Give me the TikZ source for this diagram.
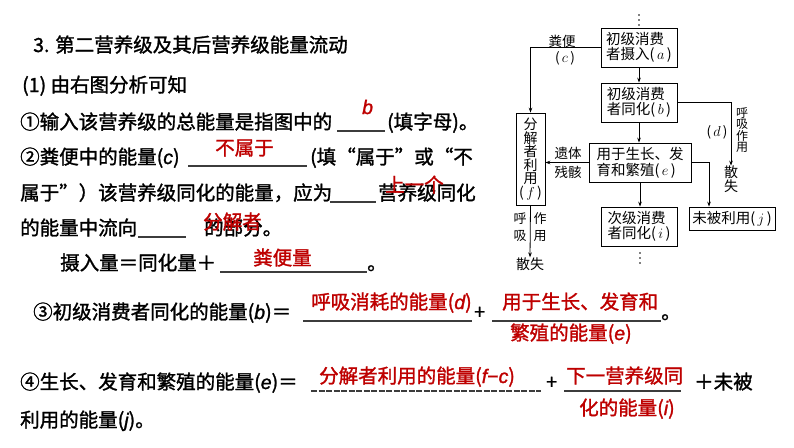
\documentclass[tikz,border=0pt]{standalone}
\usepackage{fontspec}
\setmainfont{Liberation Sans}
\newfontfamily\cjk{Noto Sans CJK SC}[FakeBold=1.4]
\newfontfamily\cjkd{Noto Sans CJK SC}
\newfontfamily\lat{Liberation Sans}[FakeBold=1.4]
\usetikzlibrary{arrows.meta}
\definecolor{ansred}{RGB}{190,0,0}
\definecolor{uline}{RGB}{60,60,60}
\newcommand\li[1]{{\lat\itshape #1}}
\begin{document}
\begin{tikzpicture}[x=1pt,y=-1pt,
  txt/.style={inner sep=0pt, anchor=base west, font=\cjk\fontsize{19.5}{22}\selectfont},
  ans/.style={txt, text=ansred},
  ul/.style={draw=uline, line width=1.3pt},
  box/.style={draw, line width=0.8pt, inner sep=0pt, align=left, font=\cjkd\fontsize{14.5}{15.6}\selectfont},
  lbl/.style={inner sep=0pt, font=\cjkd\fontsize{13.5}{14}\selectfont, align=center},
  arr/.style={draw, line width=0.8pt, -{Stealth[length=5pt,width=3.6pt]}},
  ln/.style={draw, line width=0.8pt},
  dot/.style={fill, circle, inner sep=0pt, minimum size=1.6pt}
]
\fill[white] (0,0) rectangle (794,447);
\useasboundingbox (0,0) rectangle (794,447);

% ---------- left text ----------
\node[txt] (t1) at (33,52) {3. 第二营养级及其后营养级能量流动};
\node[txt] (t2) at (22,92) {(1) 由右图分析可知};

\node[txt] (t3a) at (20,129) {①输入该营养级的总能量是指图中的};
\coordinate (u3a) at (337,131); \coordinate (u3b) at (385,131);
\draw[ul] (u3a) -- (u3b);
\node[txt] (t3b) at (387,129) {(填字母)。};
\node[ans] (a3) at (362,114) {\li{b}};

\node[txt] (t4a) at (20,164) {②粪便中的能量(\li{c})};
\coordinate (u4a) at (188,166); \coordinate (u4b) at (307,166);
\draw[ul] (u4a) -- (u4b);
\node[txt] (t4b) at (310,164) {(填“属于”或“不};
\node[ans] (a4) at (215,155) {不属于};

\node[txt] (t5a) at (20,200) {属于”）该营养级同化的能量，应为};
\coordinate (u5a) at (330,202); \coordinate (u5b) at (376,202);
\draw[ul] (u5a) -- (u5b);
\node[txt] (t5b) at (378,200) {营养级同化};
\node[ans] (a5) at (385,192) {上一个};

\node[txt] (t6a) at (20,235) {的能量中流向};
\coordinate (u6a) at (138,237); \coordinate (u6b) at (186,237);
\draw[ul] (u6a) -- (u6b);
\node[txt] (t6b) at (204,235) {的部分。};
\node[ans] (a6) at (203,229) {分解者};

\node[txt] (t7a) at (60,270) {摄入量＝同化量＋};
\coordinate (u7a) at (220,272); \coordinate (u7b) at (367,272);
\draw[ul] (u7a) -- (u7b);
\node[txt] (t7b) at (367,270) {。};
\node[ans] (a7) at (253,265) {粪便量};

\node[txt] (t8a) at (33,319) {③初级消费者同化的能量(\li{b})＝};
\coordinate (u8a) at (303,321); \coordinate (u8b) at (472,321);
\draw[ul] (u8a) -- (u8b);
\node[ans] (a8a) at (311,309) {呼吸消耗的能量(\li{d})};
\node[txt] (t8b) at (474,319) {+};
\coordinate (u8c) at (492,321); \coordinate (u8d) at (661,321);
\draw[ul] (u8c) -- (u8d);
\node[ans] (a8b) at (502,309) {用于生长、发育和};
\node[ans] (a8c) at (510,340) {繁殖的能量(\li{e})};
\node[txt] (t8c) at (661,319) {。};

\node[txt] (t9a) at (20,389) {④生长、发育和繁殖的能量(\li{e})＝};
\coordinate (u9a) at (311,391); \coordinate (u9b) at (541,391);
\draw[ul, dash pattern=on 6pt off 1.5pt] (u9a) -- (u9b);
\node[ans] (a9a) at (319,383) {分解者利用的能量(\li{f}{\lat −}\li{c})};
\node[txt] (t9b) at (546,389) {+};
\coordinate (u9c) at (564,391); \coordinate (u9d) at (681,391);
\draw[ul] (u9c) -- (u9d);
\node[ans] (a9b) at (566,383) {下一营养级同};
\node[ans] (a9c) at (579,415) {化的能量(\li{i})};
\node[txt] (t9c) at (694,389) {＋未被};
\node[txt] (t10) at (20,427) {利用的能量(\li{j})。};

% ---------- diagram ----------
\node[box, minimum width=76pt, minimum height=39pt] (a) at (639,47.5) {初级消费\\者摄入(\,$a$\,)};
\node[box, minimum width=76pt, minimum height=39pt] (b) at (639,102.5) {初级消费\\者同化(\,$b$\,)};
\node[box, minimum width=102pt, minimum height=39pt] (e) at (640,162.5) {用于生长、发\\育和繁殖(\,$e$\,)};
\node[box, minimum width=76pt, minimum height=39pt] (i) at (639,226.5) {次级消费\\者同化(\,$i$\,)};
\node[box, minimum width=86pt, minimum height=23pt] (j) at (732,218.5) {未被利用(\,$j$\,)};
\node[box, align=center, minimum width=29pt, minimum height=92pt, font=\cjkd\fontsize{14}{13.5}\selectfont] (f) at (530.5,159) {分\\解\\者\\利\\用\\(\,$f$\,)};

\node[dot] (d1) at (639,15) {}; \node[dot] (d2) at (639,20) {}; \node[dot] (d3) at (639,25) {};
\node[dot] (d4) at (640,253) {}; \node[dot] (d5) at (640,258) {}; \node[dot] (d6) at (640,263) {};

\node[lbl] (lc1) at (562,41) {粪便};
\node[lbl] (lc2) at (565,58) {(\,$c$\,)};
\node[lbl] (ld) at (717,132) {(\,$d$\,)};
\node[lbl, font=\cjkd\fontsize{12}{11.5}\selectfont] (lr) at (742,130) {呼\\吸\\作\\用};
\node[lbl, font=\cjkd\fontsize{14}{13.5}\selectfont] (s1) at (731,179) {散\\失};
\node[lbl] (ly1) at (568,153) {遗体};
\node[lbl] (ly2) at (568,172) {残骸};
\node[lbl, font=\cjkd\fontsize{14}{14}\selectfont] (s2) at (530,264) {散失};
\node[lbl, font=\cjkd\fontsize{13}{13}\selectfont] (h1) at (520,219) {呼};
\node[lbl, font=\cjkd\fontsize{13}{13}\selectfont] (h2) at (520,236) {吸};
\node[lbl, font=\cjkd\fontsize{13}{13}\selectfont] (h3) at (540,219) {作};
\node[lbl, font=\cjkd\fontsize{13}{13}\selectfont] (h4) at (540,236) {用};

\draw[arr] (a) -- (b);
\draw[arr] (b) -- (e.north -| b);
\draw[arr] (a.west) -| (f.north);
\draw[arr] (b.east) -| (s1.north);
\draw[arr] (e.west) -- (e.west -| f.east);
\coordinate (ej) at (709,162.5);
\draw[arr] (e.east) -- (ej) -- (ej |- j.north);
\draw[arr] (e.south) -- (e.south |- i.north);
\draw[arr] (f.south) -- (s2.north);
\end{tikzpicture}
\end{document}
